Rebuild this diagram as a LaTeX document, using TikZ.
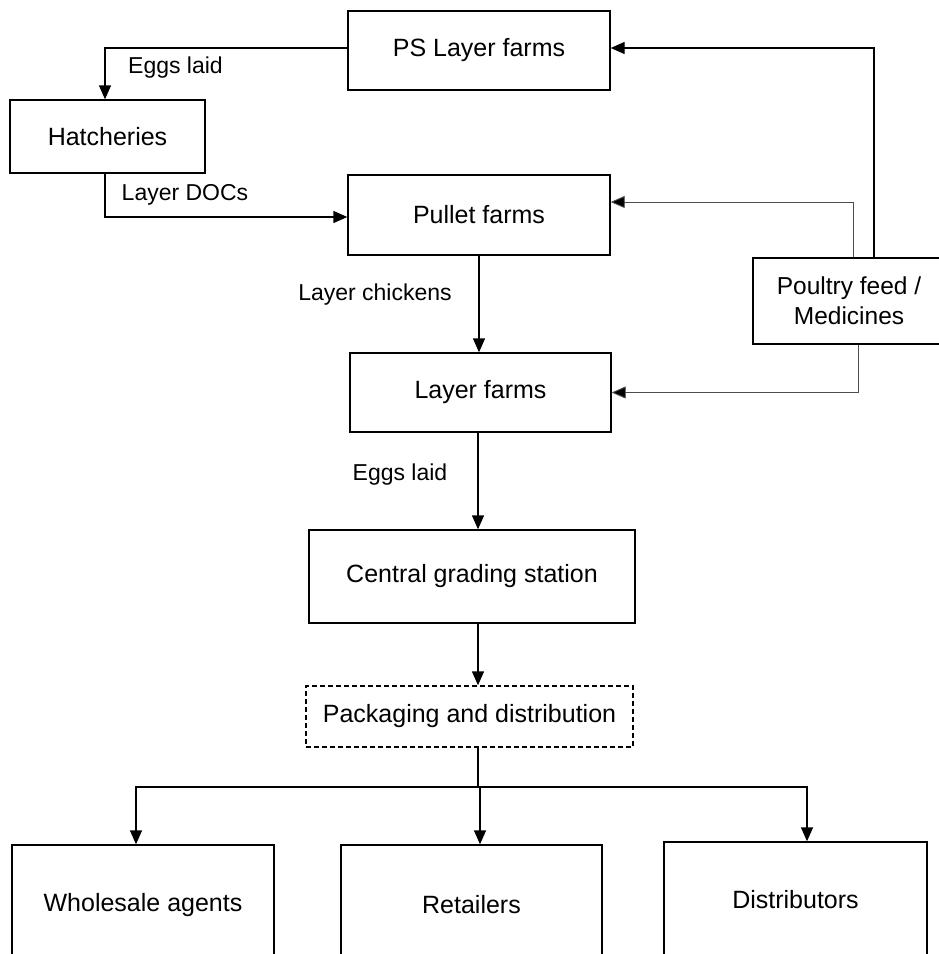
\documentclass[tikz,border=0pt]{standalone}
\usepackage{fontspec}
\setmainfont{Liberation Sans}
\usetikzlibrary{arrows.meta}
\begin{document}
\begin{tikzpicture}[x=1pt,y=-1pt,
  box/.style={draw,line width=1.4pt,minimum width=#1,inner sep=0pt,font=\fontsize{25}{30}\selectfont,align=center},
  lbl/.style={inner sep=0pt,font=\fontsize{23}{28}\selectfont},
  arr/.style={line width=1.4pt,-{Triangle[length=14pt,width=12pt]}},
  thinarr/.style={line width=0.9pt,draw=black!70,-{Triangle[length=14pt,width=12pt,fill=black]}},
  plain/.style={line width=1.4pt}]
\useasboundingbox (0,0) rectangle (939,954);
\fill[white] (0,0) rectangle (939,954);
% boxes
\node[box=262pt,minimum height=79pt] (ps) at (479,50.5) {PS Layer farms};
\node[box=195pt,minimum height=73pt] (hatch) at (107.5,136.5) {Hatcheries};
\node[box=262pt,minimum height=80pt] (pullet) at (479,215) {Pullet farms};
\node[box=192pt,minimum height=86pt,font=\fontsize{24.5}{30}\selectfont] (feed) at (849,301) {Poultry feed /\\Medicines};
\node[box=261pt,minimum height=79pt] (layer) at (480.5,392.5) {Layer farms};
\node[box=326pt,minimum height=93pt] (central) at (472,576.5) {Central grading station};
\node[box=327pt,minimum height=61pt,dashed,dash pattern=on 5pt off 3pt] (pack) at (469.5,716.5) {Packaging and distribution};
\node[box=262pt,minimum height=120pt] (whole) at (143,905) {Wholesale agents};
\node[box=261pt,minimum height=120pt] (ret) at (471.5,905) {Retailers};
\node[box=263pt,minimum height=116pt] (dist) at (795.5,900) {Distributors};
% labels
\node[lbl] (l1) at (175.5,68) {Eggs laid};
\node[lbl] (l2) at (185,195) {Layer DOCs};
\node[lbl] (l3) at (375,295) {Layer chickens};
\node[lbl] (l4) at (400,475) {Eggs laid};
% helper coordinates
\coordinate (spine) at (478,0);
\coordinate (j) at (478,787);
% connectors
\draw[arr] ([yshift=2.5pt]ps.west) -| ([xshift=-2.5pt]hatch.north);
\draw[arr] ([xshift=-2.5pt]hatch.south) |- ([yshift=-2pt]pullet.west);
\draw[arr] ([xshift=25pt]feed.north) |- ([yshift=2.5pt]ps.east);
\draw[thinarr] ([xshift=4pt]feed.north) |- ([yshift=13pt]pullet.east);
\draw[thinarr] ([xshift=9pt]feed.south) |- (layer.east);
\draw[arr] (pullet.south) -- (pullet.south |- layer.north);
\draw[arr] (layer.south -| spine) -- (central.north -| spine);
\draw[arr] (central.south -| spine) -- (pack.north -| spine);
\draw[plain] (pack.south -| spine) -- (j);
\draw[arr] (j) -| ([xshift=-7pt]whole.north);
\draw[arr] (j) -| ([xshift=11.5pt]dist.north);
\draw[arr] ([xshift=2pt]j) -- ([xshift=2pt]j |- ret.north);
\end{tikzpicture}
\end{document}
